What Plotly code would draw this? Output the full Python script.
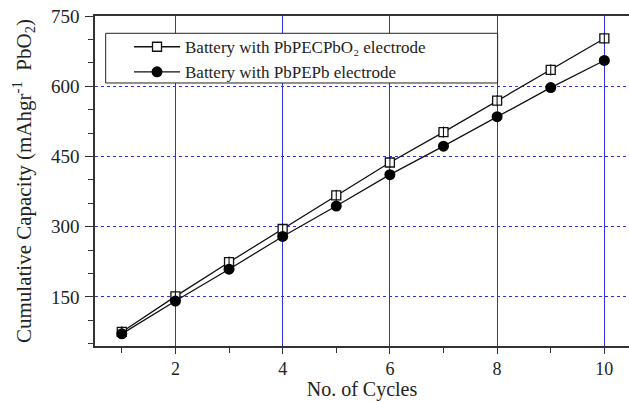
import plotly.graph_objects as go

cycles = [1, 2, 3, 4, 5, 6, 7, 8, 9, 10]
pbpecpbo2 = [75, 151, 224, 295, 367, 437, 502, 569, 635, 702]
pbpepb = [71, 141, 209, 279, 344, 411, 472, 535, 597, 655]
name_a = "Battery with PbPECPbO₂ electrode"
name_b = "Battery with PbPEPb electrode"

FONT = "Liberation Serif"
AX = "#333333"
GRID = "#3030e8"

fig = go.Figure()
fig.add_trace(go.Scatter(
    x=cycles, y=pbpecpbo2, name=name_a, mode="lines+markers",
    line=dict(color="#111111", width=1.3),
    marker=dict(symbol="square", size=9, color="white", line=dict(width=1.3, color="#111111")),
))
# centre bar of the square markers
fig.add_trace(go.Scatter(
    x=cycles, y=pbpecpbo2, mode="markers", showlegend=False, hoverinfo="skip",
    marker=dict(symbol="line-ns-open", size=8, color="#111111", line=dict(width=1.1, color="#111111")),
))
fig.add_trace(go.Scatter(
    x=cycles, y=pbpepb, name=name_b, mode="lines+markers",
    line=dict(color="#111111", width=1.3),
    marker=dict(symbol="circle", size=11, color="#000000"),
))

# legend frame (white box over the grid, as in the reference)
fig.add_shape(type="rect", xref="paper", yref="paper",
              x0=0.02, x1=0.754, y0=0.797, y1=0.9476,
              line=dict(color="#222222", width=1), fillcolor="white", layer="above")

fig.update_layout(
    width=629, height=401,
    margin=dict(l=95, r=0, t=16, b=55),
    paper_bgcolor="white", plot_bgcolor="white",
    font=dict(family=FONT, color="#222222", size=19),
    showlegend=True,
    legend=dict(
        x=0.0637, y=0.960, xanchor="left", yanchor="top",
        borderwidth=0, bgcolor="rgba(0,0,0,0)",
        font=dict(family=FONT, size=17, color="#222222"),
        itemwidth=46, tracegroupgap=0,
    ),
    xaxis=dict(
        range=[0.5, 10.46], tickmode="linear", tick0=0, dtick=2,
        showline=True, linecolor=AX, linewidth=1.5, mirror=True,
        ticks="outside", ticklen=6, tickcolor=AX, tickwidth=1.3,
        showgrid=True, gridcolor=GRID, gridwidth=1.4,
        zeroline=False,
        minor=dict(dtick=1, tick0=0, ticks="outside", ticklen=5, tickcolor=AX, tickwidth=1.3, showgrid=False),
        title=dict(text="No. of Cycles", font=dict(size=20), standoff=8),
        tickfont=dict(size=18),
    ),
    yaxis=dict(
        range=[45, 750], tickmode="linear", tick0=0, dtick=150,
        showline=True, linecolor=AX, linewidth=1.5, mirror=False,
        ticks="outside", ticklen=8, tickcolor=AX, tickwidth=1.3,
        showgrid=True, gridcolor=GRID, gridwidth=1, griddash="dot",
        zeroline=False,
        minor=dict(dtick=50, tick0=0, ticks="outside", ticklen=5, tickcolor=AX, tickwidth=1.3, showgrid=False),
        title=dict(text="Cumulative Capacity (mAhgr<sup>-1</sup>  PbO<sub>2</sub>)", font=dict(size=21), standoff=14),
        tickfont=dict(size=19),
        ticklabelstandoff=2,
    ),
)

fig.write_html("out.html")
